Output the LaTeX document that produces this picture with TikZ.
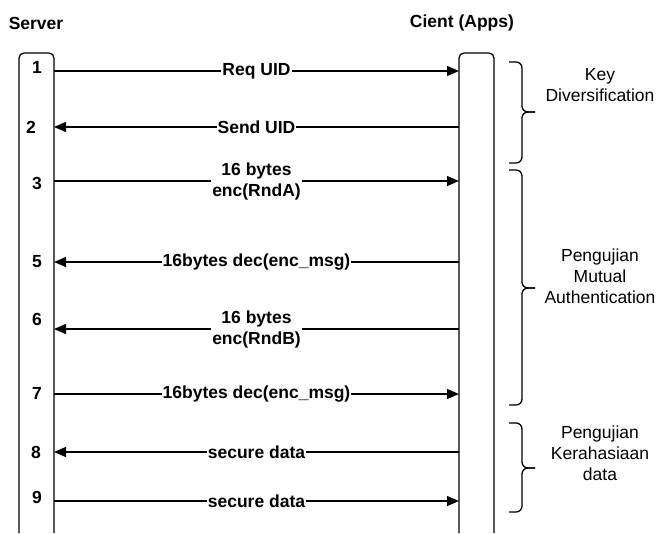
\documentclass[tikz,border=0pt]{standalone}
\usepackage{fontspec}
\setmainfont{Liberation Sans}
\usetikzlibrary{arrows.meta}
\begin{document}
\begin{tikzpicture}[x=1pt,y=-1pt,
  every node/.style={font=\fontsize{17.5}{21}\selectfont, inner sep=0pt},
  msg/.style={draw=black, line width=1.3pt},
  tipend/.style={-{Triangle[length=12pt,width=10pt]}},
  lbl/.style={fill=white, inner sep=1pt, font=\bfseries\fontsize{17.5}{21}\selectfont, align=center},
  num/.style={font=\bfseries\fontsize{17.5}{21}\selectfont},
  grp/.style={align=center},
  lifeline/.style={draw, line width=1.3pt, rounded corners=5pt},
  bracestyle/.style={draw, line width=1.3pt, rounded corners=6pt}
]
\useasboundingbox (0,0) rectangle (656,533);
% headings
\node[num] (srv) at (36,23) {Server};
\node[num] (cli) at (462,23) {Cient (Apps)};
% lifelines
\draw[lifeline] (19,533) -- (19,53) -- (54,53) -- (54,533);
\draw[lifeline] (459,533) -- (459,53) -- (494,53) -- (494,533);
% end points
\foreach \i/\y in {1/71,2/127,3/181,5/262,6/329,7/394,8/452,9/501}{
  \coordinate (s\i) at (54,\y);
  \coordinate (c\i) at (459,\y);
}
% messages
\draw[msg,tipend] (s1) -- node[lbl] (m1) {Req UID} (c1);
\draw[msg,tipend] (c2) -- node[lbl] (m2) {Send UID} (s2);
\draw[msg,tipend] (s3) -- node[lbl] (m3) {16 bytes\\enc(RndA)} (c3);
\draw[msg,tipend] (c5) -- node[lbl] (m5) {16bytes dec(enc\_msg)} (s5);
\draw[msg,tipend] (c6) -- node[lbl] (m6) {16 bytes\\enc(RndB)} (s6);
\draw[msg,tipend] (s7) -- node[lbl] (m7) {16bytes dec(enc\_msg)} (c7);
\draw[msg,tipend] (c8) -- node[lbl] (m8) {secure data} (s8);
\draw[msg,tipend] (s9) -- node[lbl] (m9) {secure data} (c9);
% step numbers
\node[num] (n1) at (37,67) {1};
\node[num] (n2) at (31,127) {2};
\node[num] (n3) at (37,183) {3};
\node[num] (n5) at (37,262) {5};
\node[num] (n6) at (37,319) {6};
\node[num] (n7) at (37,393) {7};
\node[num] (n8) at (36,452) {8};
\node[num] (n9) at (37,497) {9};
% braces
\draw[bracestyle] (509,62) -- (522,62) -- (522,112) -- (535,112);
\draw[bracestyle] (535,112) -- (522,112) -- (522,163) -- (509,163);
\draw[bracestyle] (509,170) -- (522,170) -- (522,288) -- (535,288);
\draw[bracestyle] (535,288) -- (522,288) -- (522,405) -- (509,405);
\draw[bracestyle] (509,423) -- (522,423) -- (522,468) -- (535,468);
\draw[bracestyle] (535,468) -- (522,468) -- (522,512) -- (509,512);
% group labels
\node[grp] (g1) at (600,85) {Key\\Diversification};
\node[grp] (g2) at (600,276) {Pengujian\\Mutual\\Authentication};
\node[grp] (g3) at (600,453) {Pengujian\\Kerahasiaan\\data};
\end{tikzpicture}
\end{document}
